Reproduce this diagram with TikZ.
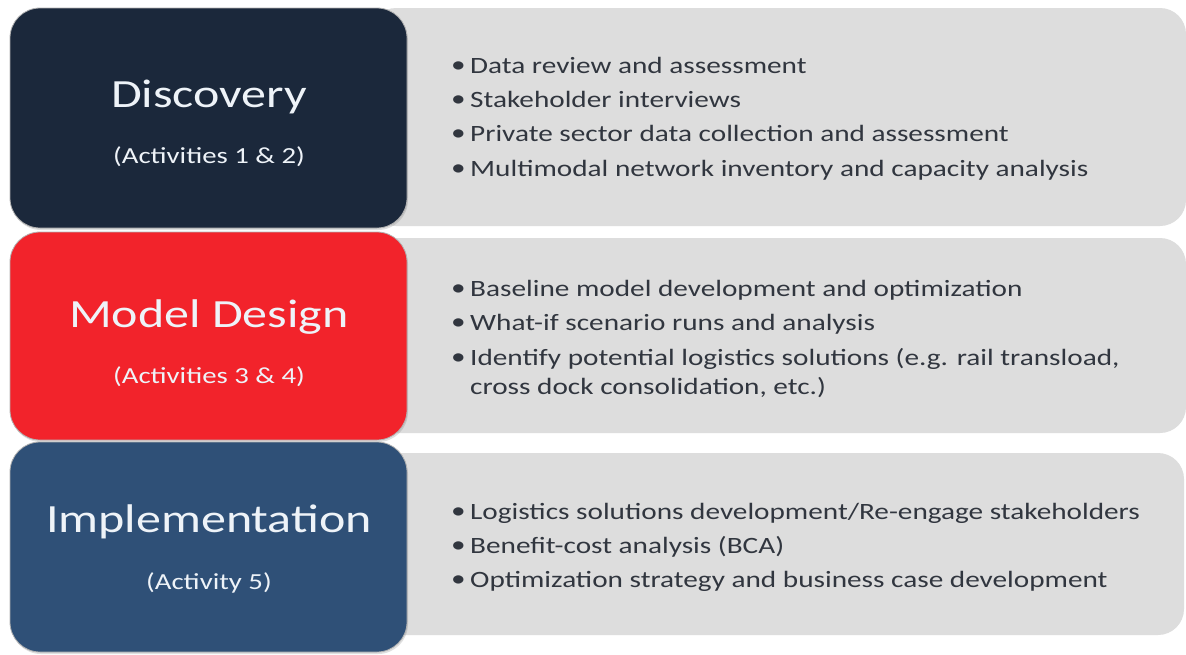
\documentclass[tikz,border=0pt]{standalone}
\usepackage{fontspec}
\setmainfont{Carlito}[FakeStretch=1.25]
\usetikzlibrary{shadows}
\definecolor{navy}{HTML}{1B283B}
\definecolor{redphase}{HTML}{F2232B}
\definecolor{bluephase}{HTML}{2F5077}
\definecolor{panel}{HTML}{DDDDDD}
\definecolor{bodytext}{HTML}{31363F}
\definecolor{titletext}{HTML}{EEF3F8}
\tikzset{
  phasebox/.style={rounded corners=30pt, draw=white!70!black, line width=0.8pt,
    drop shadow={shadow xshift=1pt, shadow yshift=-2pt, opacity=0.25}},
  panelbox/.style={fill=panel, draw=none, rounded corners=26pt},
  phasetitle/.style={text=titletext, anchor=base, inner sep=0pt, font=\fontsize{40}{48}\selectfont},
  phasesub/.style={text=titletext, anchor=base, inner sep=0pt, font=\fontsize{23}{28}\selectfont},
  bulletline/.style={text=bodytext, anchor=base west, inner sep=0pt, font=\fontsize{23.4}{28}\selectfont},
}
\newcommand{\bitem}[1]{\makebox[19pt][l]{\raisebox{1pt}{\textbullet}}#1}
\newcommand{\bcont}[1]{\hspace*{19pt}#1}
\begin{document}
\begin{tikzpicture}[x=1pt, y=-1pt]
\useasboundingbox (0,0) rectangle (1186,654);
\fill[white] (0,0) rectangle (1186,654);

% grey panels holding the activity lists (left ends sit behind the phase boxes)
\path[panelbox] (370,8)   rectangle (1186,226);
\path[panelbox] (370,238) rectangle (1186,433);
\path[panelbox] (370,453) rectangle (1184,635);
\node[inner sep=0pt] (p1) at (790,117) {};
\node[inner sep=0pt] (p2) at (790,335) {};
\node[inner sep=0pt] (p3) at (790,544) {};

% coloured phase boxes
\draw[phasebox, fill=navy] (10,8) rectangle (407,228);
\draw[phasebox, fill=redphase] (10,232) rectangle (407,440);
\draw[phasebox, fill=bluephase] (10,442) rectangle (407,652);

\node[phasetitle] (t1) at (209,107) {Discovery};
\node[phasesub]   (s1) at (209,163) {(Activities 1 \& 2)};
\node[phasetitle] (t2) at (209,327) {Model Design};
\node[phasesub]   (s2) at (209,383) {(Activities 3 \& 4)};
\node[phasetitle] (t3) at (209,532) {Implementation};
\node[phasesub]   (s3) at (209,589) {(Activity 5)};

% activity lists
\node[bulletline] (a1) at (451,73)  {\bitem{Data review and assessment}};
\node[bulletline] (a2) at (451,107) {\bitem{Stakeholder interviews}};
\node[bulletline] (a3) at (451,141) {\bitem{Private sector data collection and assessment}};
\node[bulletline] (a4) at (451,176) {\bitem{Multimodal network inventory and capacity analysis}};

\node[bulletline] (b1) at (451,296) {\bitem{Baseline model development and optimization}};
\node[bulletline] (b2) at (451,330) {\bitem{What-if scenario runs and analysis}};
\node[bulletline] (b3) at (451,365) {\bitem{Identify potential logistics solutions (e.g. rail transload,}};
\node[bulletline] (b4) at (451,394) {\bcont{cross dock consolidation, etc.)}};

\node[bulletline] (c1) at (451,519) {\bitem{Logistics solutions development/Re-engage stakeholders}};
\node[bulletline] (c2) at (451,553) {\bitem{Benefit-cost analysis (BCA)}};
\node[bulletline] (c3) at (451,587) {\bitem{Optimization strategy and business case development}};
\end{tikzpicture}
\end{document}
